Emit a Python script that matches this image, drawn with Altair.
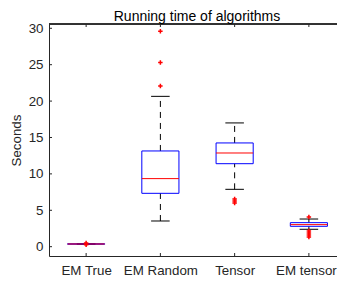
import altair as alt
import pandas as pd

# ---- data ----
categories = ["EM True", "EM Random", "Tensor", "EM tensor"]
q1 = [0.34, 7.33, 11.40, 2.80]
median = [0.37, 9.35, 12.87, 3.03]
q3 = [0.40, 13.15, 14.25, 3.30]
whisker_low = [0.33, 3.53, 7.88, 2.39]
whisker_high = [0.41, 20.65, 17.00, 3.80]
outliers_em_true = [0.28, 0.50]
outliers_em_random = [22.07, 25.30, 29.60]
outliers_tensor = [6.00, 6.27, 6.55]
outliers_em_tensor = [4.08, 2.16, 1.88, 1.60, 1.33]
y_ticks = [0, 5, 10, 15, 20, 25, 30]
title_text = ["Running time of algorithms"]

FONT = "Liberation Sans"
AX = "#262626"
W, H = 288, 232          # visible view (svg must stay within the window)
XR = 297                 # full x range of the axes box (right edge falls off-window)
BOX_HALF, CAP_HALF = 0.25, 0.125

positions = list(range(1, len(categories) + 1))
df = pd.DataFrame({"cat": categories, "pos": positions, "q1": q1, "med": median,
                   "q3": q3, "lo": whisker_low, "hi": whisker_high})
df["bl"] = df["pos"] - BOX_HALF
df["br"] = df["pos"] + BOX_HALF
df["cl"] = df["pos"] - CAP_HALF
df["cr"] = df["pos"] + CAP_HALF

out_lists = [outliers_em_true, outliers_em_random, outliers_tensor, outliers_em_tensor]
out_df = pd.DataFrame([{"pos": p, "v": v} for p, lst in zip(positions, out_lists) for v in lst])
ytick_df = pd.DataFrame({"v": y_ticks})
xtick_df = pd.DataFrame({"p": positions})
title_df = pd.DataFrame({"t": title_text})

xs = alt.Scale(domain=[0.5, 4.5], range=[0, XR], nice=False, zero=False)
ys = alt.Scale(domain=[-1.28, 30.59], nice=False, zero=False)

label_expr = "[" + ",".join("'" + c + "'" for c in categories) + "][datum.value - 1]"

x_axis = alt.Axis(values=positions, labelExpr=label_expr, ticks=False, domain=True,
                  domainColor=AX, domainWidth=1,
                  grid=False, title=None, labelFont=FONT, labelFontSize=13.33,
                  labelColor=AX, labelPadding=7,
                  labelOffset={"expr": "datum.value == 4 ? -3 : 0"})
y_axis = alt.Axis(values=y_ticks, ticks=False, domain=True, domainColor=AX, domainWidth=1,
                  grid=False,
                  title="Seconds", titleFont=FONT, titleFontSize=13.33,
                  titleFontWeight="normal", titleColor=AX, titlePadding=5,
                  labelFont=FONT, labelFontSize=13.33, labelColor=AX, labelPadding=6)


def X(f):
    return alt.X(f, scale=xs, axis=x_axis)


def Y(f):
    return alt.Y(f, scale=ys, axis=y_axis)


base = alt.Chart(df)
dash = [6, 5]

whisk_up = base.mark_rule(color="black", strokeWidth=1, strokeDash=dash).encode(
    x=X("pos:Q"), y=Y("q3:Q"), y2="hi:Q")
whisk_dn = base.mark_rule(color="black", strokeWidth=1, strokeDash=dash).encode(
    x=X("pos:Q"), y=Y("lo:Q"), y2="q1:Q")
cap_up = base.mark_rule(color="black", strokeWidth=1).encode(
    x=X("cl:Q"), x2="cr:Q", y=Y("hi:Q"))
cap_dn = base.mark_rule(color="black", strokeWidth=1).encode(
    x=X("cl:Q"), x2="cr:Q", y=Y("lo:Q"))
box = base.mark_rect(fill=None, fillOpacity=0, stroke="#0000ff", strokeWidth=1).encode(
    x=X("bl:Q"), x2="br:Q", y=Y("q1:Q"), y2="q3:Q")
med = base.mark_rule(color="#ff0000", strokeWidth=1).encode(
    x=X("bl:Q"), x2="br:Q", y=Y("med:Q"))
outl = alt.Chart(out_df).mark_point(
    shape="M-1,0L1,0M0,-1L0,1", size=20, filled=False, color="#ff0000",
    strokeWidth=1.5, opacity=1).encode(x=X("pos:Q"), y=Y("v:Q"))

# MATLAB-style inward ticks and top frame line
yt_left = alt.Chart(ytick_df).mark_rule(color=AX, strokeWidth=1).encode(
    x=alt.value(0), x2=alt.value(3), y=Y("v:Q"))
xt_top = alt.Chart(xtick_df).mark_rule(color=AX, strokeWidth=1).encode(
    x=X("p:Q"), y=alt.value(0), y2=alt.value(3))
xt_bot = alt.Chart(xtick_df).mark_rule(color=AX, strokeWidth=1).encode(
    x=X("p:Q"), y=alt.value(H - 3), y2=alt.value(H))
top_line = alt.Chart(xtick_df).mark_rule(color=AX, strokeWidth=1).encode(
    x=alt.value(0), x2=alt.value(XR), y=alt.value(0))

title = alt.Chart(title_df).mark_text(
    font=FONT, fontSize=14, color="#000000", align="center", baseline="alphabetic"
).encode(text="t:N", x=alt.value(148), y=alt.value(-3.2))

chart = alt.layer(
    whisk_up, whisk_dn, cap_up, cap_dn, box, med, outl,
    yt_left, xt_top, xt_bot, top_line, title
).properties(
    width=W, height=H,
    autosize=alt.AutoSizeParams(type="none"),
    padding={"left": 41, "top": 16, "right": 0, "bottom": 20},
).configure_view(
    stroke=None
).configure(background="white")

chart.save("out.html", embed_options={"renderer": "svg", "actions": False})
